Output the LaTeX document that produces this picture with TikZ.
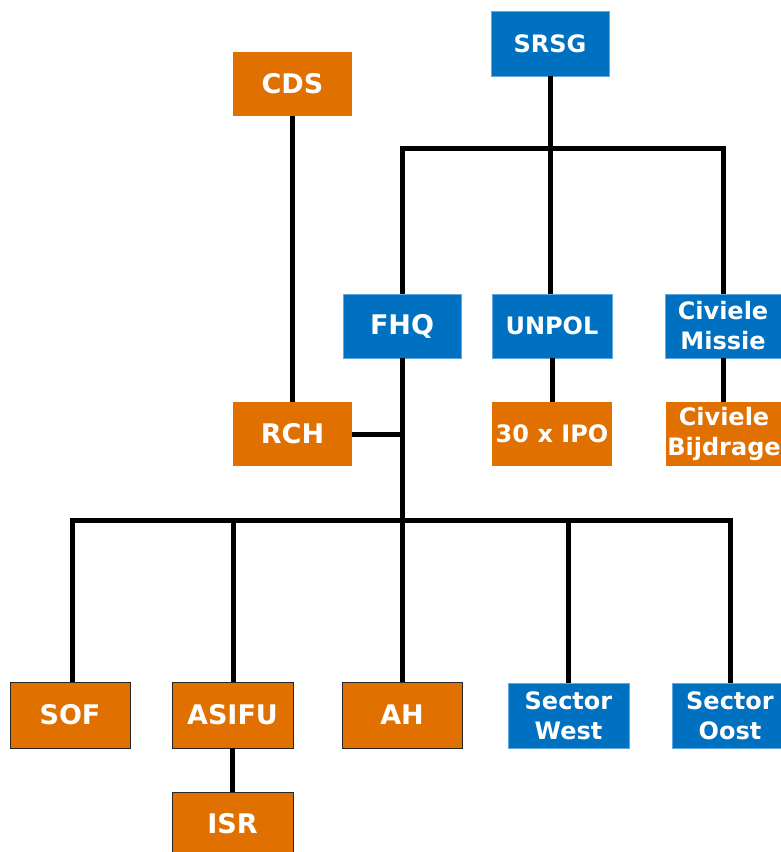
\documentclass[tikz,border=0pt]{standalone}
\usepackage{fontspec}
\setmainfont{DejaVu Sans}
\definecolor{obox}{HTML}{E07000}
\definecolor{bbox}{HTML}{0070C0}
\definecolor{bedge}{HTML}{5FA8E0}
\begin{document}
\begin{tikzpicture}[x=1pt,y=-1pt,
  base/.style={inner sep=0pt, outer sep=0pt, align=center, text=white,
    font=\fontsize{24}{30}\selectfont\bfseries},
  big/.style={font=\fontsize{27}{32}\selectfont\bfseries},
  bluebox/.style={base, fill=bbox, draw=bedge, line width=0.8pt},
  orbox/.style={base, fill=obox, draw=none},
  orboxd/.style={base, fill=obox, draw=black!85, line width=1pt},
  conn/.style={line width=5pt, black}]
\useasboundingbox (0,0) rectangle (781,852);
\node[bluebox, minimum width=118, minimum height=65] (srsg) at (550,43.5) {SRSG};
\node[orbox, big, minimum width=119, minimum height=64] (cds) at (292.5,84) {CDS};
\node[bluebox, big, minimum width=118, minimum height=64] (fhq) at (402,326) {FHQ};
\node[bluebox, minimum width=120, minimum height=64] (unpol) at (552,326) {UNPOL};
\node[bluebox, minimum width=116, minimum height=64] (civm) at (723,326) {Civiele\\Missie};
\node[orbox, big, minimum width=119, minimum height=64] (rch) at (292.5,434) {RCH};
\node[orbox, minimum width=120, minimum height=64] (ipo) at (552,434) {30 x IPO};
\node[orbox, minimum width=116, minimum height=64] (civb) at (724,434) {Civiele\\Bijdrage};
\node[orboxd, big, minimum width=120, minimum height=66] (sof) at (70,715) {SOF};
\node[orboxd, big, minimum width=121, minimum height=66] (asifu) at (232.5,715) {ASIFU};
\node[orboxd, big, minimum width=120, minimum height=66] (ah) at (402,715) {AH};
\node[bluebox, minimum width=121, minimum height=65] (sw) at (568.5,715.5) {Sector\\West};
\node[bluebox, minimum width=116, minimum height=65] (so) at (730,715.5) {Sector\\Oost};
\node[orboxd, big, minimum width=121, minimum height=64] (isr) at (232.5,824) {ISR};
% coordinates
\coordinate (b1) at (550,148);
\coordinate (b1l) at (402,148);
\coordinate (b1r) at (723,148);
\coordinate (j1) at (402,434);
\coordinate (b2) at (402,520);
\coordinate (b2l) at (72,520);
\coordinate (b2r) at (730,520);
% connectors
\draw[conn] (srsg.south) -- (b1);
\draw[conn, line cap=rect] (b1l) -- (b1r);
\draw[conn] (b1l) -- (fhq.north);
\draw[conn] (b1) -- (b1 |- unpol.north);
\draw[conn] (b1r) -- (civm.north);
\draw[conn] (cds.south) -- (rch.north);
\draw[conn] (fhq.south) -- (b2);
\draw[conn] (rch.east) -- (j1);
\draw[conn, line cap=rect] (b2l) -- (b2r);
\draw[conn] (b2l) -- (b2l |- sof.north);
\draw[conn] (233,520) -- (233,682);
\draw[conn] (b2) -- (ah.north);
\draw[conn] (568,520) -- (568,683);
\draw[conn] (b2r) -- (so.north);
\draw[conn] (unpol.south) -- (ipo.north);
\draw[conn] (civm.south) -- (723,402);
\draw[conn] (asifu.south) -- (isr.north);
\end{tikzpicture}
\end{document}
